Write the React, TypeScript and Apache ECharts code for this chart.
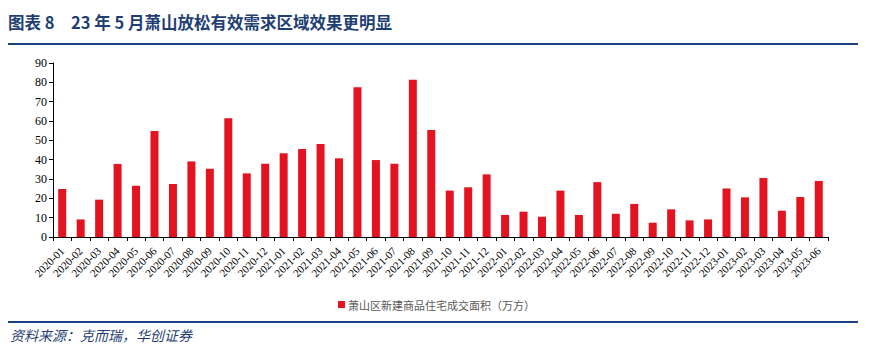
import React, { useEffect, useRef } from "react";
import * as echarts from "echarts";

const categories: string[] = [
  "2020-01", "2020-02", "2020-03", "2020-04", "2020-05", "2020-06", "2020-07", "2020-08", "2020-09", "2020-10", "2020-11", "2020-12",
  "2021-01", "2021-02", "2021-03", "2021-04", "2021-05", "2021-06", "2021-07", "2021-08", "2021-09", "2021-10", "2021-11", "2021-12",
  "2022-01", "2022-02", "2022-03", "2022-04", "2022-05", "2022-06", "2022-07", "2022-08", "2022-09", "2022-10", "2022-11", "2022-12",
  "2023-01", "2023-02", "2023-03", "2023-04", "2023-05", "2023-06",
];

const seriesName = "萧山区新建商品住宅成交面积（万方）";
const values: number[] = [
  24.8, 9.1, 19.3, 37.8, 26.5, 54.8, 27.4, 39.1, 35.3, 61.4, 32.9, 37.9,
  43.3, 45.5, 48.1, 40.7, 77.4, 39.8, 37.9, 81.4, 55.4, 24.0, 25.7, 32.4,
  11.4, 13.1, 10.5, 24.0, 11.4, 28.4, 12.0, 17.1, 7.4, 14.3, 8.6, 9.1,
  25.1, 20.5, 30.5, 13.6, 20.7, 29.0,
];

const titleText = "图表 8\u300023 年 5 月萧山放松有效需求区域效果更明显";
const sourceText = "资料来源：克而瑞，华创证券";

export default function App() {
  const ref = useRef<HTMLDivElement>(null);
  useEffect(() => {
    if (!ref.current) return;
    const chart = echarts.init(ref.current, null, { renderer: "svg" });
    const navy = "#1F3F73";
    chart.setOption({
      animation: false,
      backgroundColor: "#ffffff",
      grid: { left: 53, right: 41, top: 63, bottom: 115, containLabel: false },
      legend: {
        data: [seriesName],
        left: 333,
        top: 294,
        itemWidth: 7,
        itemHeight: 7,
        icon: "rect",
        itemGap: 4,
        textStyle: { fontSize: 11, color: "#595959", fontFamily: "Noto Sans CJK SC", padding: [0, 0, 0, -2] },
      },
      xAxis: {
        type: "category",
        data: categories,
        axisLine: { lineStyle: { color: "#000", width: 1 } },
        axisTick: { show: true, alignWithLabel: false, length: 4, lineStyle: { color: "#000" } },
        axisLabel: {
          interval: 0,
          rotate: 45,
          fontSize: 11,
          color: "#000",
          fontFamily: "Liberation Serif",
          margin: 12,
        },
        splitLine: { show: false },
      },
      yAxis: {
        type: "value",
        min: 0,
        max: 90,
        interval: 10,
        axisLine: { show: true, lineStyle: { color: "#000", width: 1 } },
        axisTick: { show: true, length: 4, lineStyle: { color: "#000" } },
        axisLabel: { fontSize: 12, color: "#000", fontFamily: "Liberation Serif", margin: 6 },
        splitLine: { show: false },
      },
      series: [
        {
          name: seriesName,
          type: "bar",
          data: values,
          barWidth: 8,
          itemStyle: { color: "#E3141F" },
        },
      ],
      graphic: [
        {
          type: "text",
          left: 8,
          top: 14,
          style: {
            text: titleText,
            fontSize: 16.5,
            fontWeight: "bold",
            fill: navy,
            fontFamily: "Noto Sans CJK SC",
          },
        },
        {
          type: "line",
          shape: { x1: 8, y1: 44, x2: 858, y2: 44 },
          style: { stroke: "#1A4283", lineWidth: 2 },
        },
        {
          type: "line",
          shape: { x1: 8, y1: 322, x2: 858, y2: 322 },
          style: { stroke: "#1A4283", lineWidth: 2 },
        },
        {
          type: "text",
          left: 10,
          top: 328,
          style: {
            text: sourceText,
            fontSize: 14,
            fontStyle: "italic",
            fill: navy,
            fontFamily: "Noto Sans CJK SC",
          },
        },
      ],
    });
    return () => chart.dispose();
  }, []);
  return (
    <div
      ref={ref}
      style={{ position: "fixed", left: 0, top: 0, width: 869, height: 352 }}
    />
  );
}
